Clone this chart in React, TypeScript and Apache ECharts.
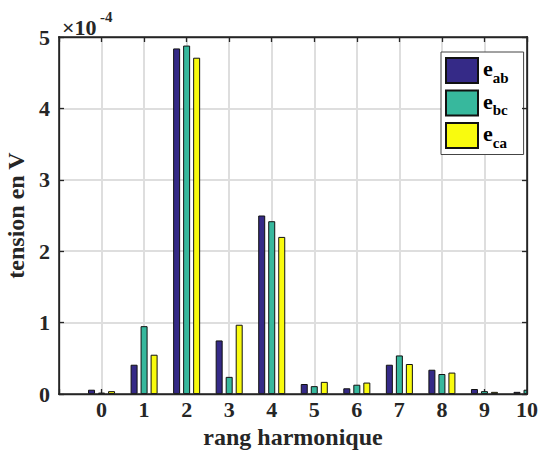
import React, { useEffect, useRef } from "react";
import * as echarts from "echarts";

// harmonic order (x positions) and tick labels
const harmonics = [0, 1, 2, 3, 4, 5, 6, 7, 8, 9, 10];
const yTicks = [0, 1, 2, 3, 4, 5]; // in units of 1e-4 V
const scaleBase = "×10";
const scaleExp = "-4";

// amplitudes in units of 1e-4 V
const eab = [0.06, 0.41, 4.84, 0.75, 2.5, 0.14, 0.08, 0.41, 0.34, 0.07, 0.03];
const ebc = [0.02, 0.95, 4.88, 0.24, 2.42, 0.11, 0.13, 0.54, 0.28, 0.04, 0.06];
const eca = [0.04, 0.55, 4.71, 0.97, 2.2, 0.17, 0.16, 0.42, 0.3, 0.03, 0.03];

const seriesNames = ["ab", "bc", "ca"];
const seriesData = [eab, ebc, eca];
const colors = ["#352A87", "#37B89D", "#F9FB0E"];

const FONT = "Liberation Serif";
const AXIS = "#262626";
const GRIDC = "#dedede";

// axes box (pixels)
const BOX = { left: 59, right: 12, top: 37, bottom: 63 };
const W = 539;
const H = 457;
const LW = 1.6;

export default function App() {
  const ref = useRef<HTMLDivElement>(null);
  useEffect(() => {
    if (!ref.current) return;
    const chart = echarts.init(ref.current, undefined, { renderer: "svg" });
    const xMin = harmonics[0] - 1;
    const xMax = harmonics[harmonics.length - 1];
    const yMin = yTicks[0];
    const yMax = yTicks[yTicks.length - 1];
    const mkLine = () => ({ color: AXIS, width: 1.3 });
    const bx = BOX.left;
    const by = BOX.top;
    const bw = W - BOX.left - BOX.right;
    const bh = H - BOX.top - BOX.bottom;
    const h = LW / 2;
    const edge = (x: number, y: number, w: number, hh: number) => ({
      type: "rect",
      z: 6,
      silent: true,
      shape: { x, y, width: w, height: hh },
      style: { fill: AXIS },
    });
    chart.setOption({
      animation: false,
      textStyle: { fontFamily: FONT },
      grid: { ...BOX, containLabel: false, outerBoundsMode: "none" },
      graphic: [
        {
          type: "text",
          left: 62,
          top: 16,
          z: 10,
          style: { text: scaleBase, fontFamily: FONT, fontSize: 22, fontWeight: "bold", fill: "#262626" },
        },
        {
          type: "text",
          left: 100,
          top: 9,
          z: 10,
          style: { text: scaleExp, fontFamily: FONT, fontSize: 15, fontWeight: "bold", fill: "#262626" },
        },
        {
          // white mask hiding bar parts that overflow the right edge of the axes box
          type: "rect",
          z: 4,
          silent: true,
          shape: { x: bx + bw + 1, y: by + bh - 34, width: BOX.right, height: 34.5 },
          style: { fill: "#fff" },
        },
        // axes box edges
        edge(bx - h, by - h, bw + LW, LW),
        edge(bx - h, by + bh - h, bw + LW, LW),
        edge(bx - h, by - h, LW, bh + LW),
        edge(bx + bw - h, by - h, LW, bh + LW),
      ],
      legend: {
        orient: "vertical",
        left: 441,
        top: 52,
        padding: [3.5, 15, 4, 4],
        itemWidth: 32,
        itemHeight: 25,
        itemGap: 2.5,
        backgroundColor: "#fff",
        borderColor: "#444",
        borderWidth: 1,
        borderRadius: 0,
        data: seriesNames.map((n) => ({ name: n, icon: "rect" })),
        formatter: (n: string) => "{e|e}{s|" + n + "}",
        textStyle: {
          rich: {
            e: { fontFamily: FONT, fontSize: 22, fontWeight: "bold", color: "#000", lineHeight: 22, padding: [2, 0, 6, 0] },
            s: { fontFamily: FONT, fontSize: 15, fontWeight: "bold", color: "#000", lineHeight: 16, padding: [14, 0, 0, 0] },
          },
        },
      },
      xAxis: [
        {
          type: "value",
          min: xMin,
          max: xMax,
          interval: 1,
          position: "bottom",
          name: "rang harmonique",
          nameLocation: "middle",
          nameGap: 28,
          nameTextStyle: { fontFamily: FONT, fontSize: 24, fontWeight: "bold", color: "#262626" },
          axisLine: { show: true, onZero: false, lineStyle: mkLine() },
          axisTick: { show: true, inside: true, length: 5, lineStyle: mkLine() },
          axisLabel: {
            margin: 4,
            fontFamily: FONT,
            fontSize: 22,
            fontWeight: "bold",
            color: "#262626",
            formatter: (v: number) => (v < harmonics[0] ? "" : String(v)),
          },
          splitLine: {
            show: true,
            showMinLine: false,
            showMaxLine: false,
            lineStyle: { color: GRIDC, width: 2, type: "solid" },
          },
        },
        {
          type: "value",
          min: xMin,
          max: xMax,
          interval: 1,
          position: "top",
          z: 5,
          axisLine: { show: true, onZero: false, lineStyle: mkLine() },
          axisTick: { show: true, inside: true, length: 5, lineStyle: mkLine() },
          axisLabel: { show: false },
          splitLine: { show: false },
        },
      ],
      yAxis: [
        {
          type: "value",
          min: yMin,
          max: yMax,
          interval: 1,
          position: "left",
          name: "tension en V",
          nameLocation: "middle",
          nameGap: 25,
          nameTextStyle: { fontFamily: FONT, fontSize: 24, fontWeight: "bold", color: "#262626" },
          axisLine: { show: true, onZero: false, lineStyle: mkLine() },
          axisTick: { show: true, inside: true, length: 5, lineStyle: mkLine() },
          axisLabel: {
            margin: 9,
            fontFamily: FONT,
            fontSize: 22,
            fontWeight: "bold",
            color: "#262626",
            formatter: (v: number) => String(Math.round(v)),
          },
          splitLine: {
            show: true,
            showMinLine: false,
            showMaxLine: false,
            lineStyle: { color: GRIDC, width: 2, type: "solid" },
          },
        },
        {
          type: "value",
          min: yMin,
          max: yMax,
          interval: 1,
          position: "right",
          z: 5,
          axisLine: { show: true, onZero: false, lineStyle: mkLine() },
          axisTick: { show: true, inside: true, length: 5, lineStyle: mkLine() },
          axisLabel: { show: false },
          splitLine: { show: false },
        },
      ],
      series: seriesData.map((d, i) => ({
        type: "bar",
        name: seriesNames[i],
        xAxisIndex: 0,
        yAxisIndex: 0,
        barWidth: 7,
        barGap: "43%",
        clip: true,
        itemStyle: { color: colors[i], borderColor: "#111", borderWidth: 1 },
        emphasis: { disabled: true },
        data: d.map((v, k) => [harmonics[k], v]),
      })),
    });
    return () => chart.dispose();
  }, []);
  return (
    <div
      ref={ref}
      style={{ position: "fixed", left: 0, top: 0, width: W, height: H, background: "#fff" }}
    />
  );
}
